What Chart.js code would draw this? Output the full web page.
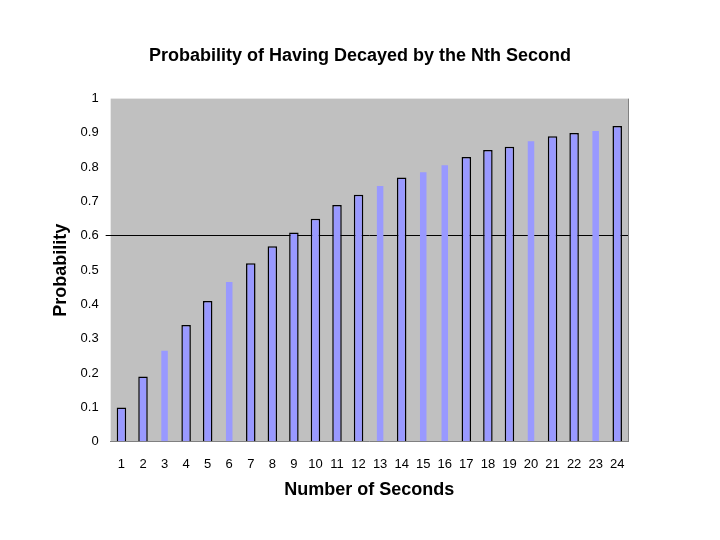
<!DOCTYPE html>
<html>
<head>
<meta charset="utf-8">
<script src="https://cdn.jsdelivr.net/npm/chart.js@4"></script>
<style>
  html, body { margin: 0; padding: 0; background: #fff; }
</style>
</head>
<body>
<canvas id="myChart" width="720" height="540"></canvas>
<script>
// data
var seconds = ['1','2','3','4','5','6','7','8','9','10','11','12',
               '13','14','15','16','17','18','19','20','21','22','23','24'];
var probability = [0.10, 0.19, 0.27, 0.34, 0.41, 0.47, 0.52, 0.57, 0.61, 0.65, 0.69, 0.72,
                   0.75, 0.77, 0.79, 0.81, 0.83, 0.85, 0.86, 0.88, 0.89, 0.90, 0.91, 0.92];
var refLine = 0.6;

// some bars in the original lost their outline
var outlined = [1,1,0,1,1,0,1,1,1,1,1,1,0,1,0,0,1,1,1,0,1,1,0,1];

var font = "'Liberation Sans', Arial, sans-serif";

// grey plot area + right frame
var plotBg = {
  id: 'plotBg',
  beforeDraw: function(chart) {
    var c = chart.ctx, a = chart.chartArea;
    c.save();
    c.fillStyle = '#c0c0c0';
    c.fillRect(a.left, a.top, a.right - a.left, a.bottom - a.top);
    c.strokeStyle = '#808080';
    c.lineWidth = 1;
    c.beginPath();
    c.moveTo(a.right + 0.5, a.top);
    c.lineTo(a.right + 0.5, a.bottom);
    c.stroke();
    c.restore();
  }
};

var ctx = document.getElementById('myChart').getContext('2d');
var myChart = new Chart(ctx, {
  type: 'bar',
  data: {
    labels: seconds,
    datasets: [{
      data: probability,
      backgroundColor: '#9999ff',
      borderColor: outlined.map(function(o) { return o ? '#000000' : 'rgba(0,0,0,0)'; }),
      borderWidth: 1.5,
      barPercentage: 0.9,
      categoryPercentage: 0.49
    }]
  },
  options: {
    responsive: false,
    animation: false,
    devicePixelRatio: 1,
    layout: { padding: { top: 20, right: 44, bottom: 35, left: 44 } },
    plugins: {
      legend: { display: false },
      tooltip: { enabled: false },
      title: {
        display: true,
        text: 'Probability of Having Decayed by the Nth Second',
        color: '#000',
        font: { family: font, size: 18, weight: 'bold' },
        padding: { top: 25, bottom: 32 }
      }
    },
    scales: {
      x: {
        grid: { display: false, drawTicks: false },
        border: { display: true, color: '#808080', width: 1 },
        ticks: { color: '#000', font: { family: font, size: 13 }, padding: 15, maxRotation: 0, autoSkip: false },
        title: {
          display: true,
          text: 'Number of Seconds',
          color: '#000',
          font: { family: font, size: 18, weight: 'bold' },
          padding: { top: -8, bottom: 4 }
        }
      },
      y: {
        min: 0,
        max: 1,
        ticks: {
          stepSize: 0.1,
          color: '#000',
          font: { family: font, size: 13 },
          padding: 7,
          callback: function(v) { return Math.round(v * 10) / 10; }
        },
        grid: {
          color: function(c) { return Math.abs(c.tick.value - refLine) < 1e-6 ? '#000' : 'rgba(0,0,0,0)'; },
          lineWidth: 1,
          tickLength: 5
        },
        border: { display: false },
        title: {
          display: true,
          text: 'Probability',
          color: '#000',
          font: { family: font, size: 18, weight: 'bold' },
          padding: { top: 6, bottom: 2 }
        }
      },
      // empty right-hand spacer so the title sits centred on the page
      yRight: {
        position: 'right',
        display: true,
        min: 0,
        max: 1,
        grid: { display: false, drawTicks: false },
        border: { display: false },
        ticks: { display: false },
        afterFit: function(s) { s.width = 48; }
      }
    }
  },
  plugins: [plotBg]
});
</script>
</body>
</html>
